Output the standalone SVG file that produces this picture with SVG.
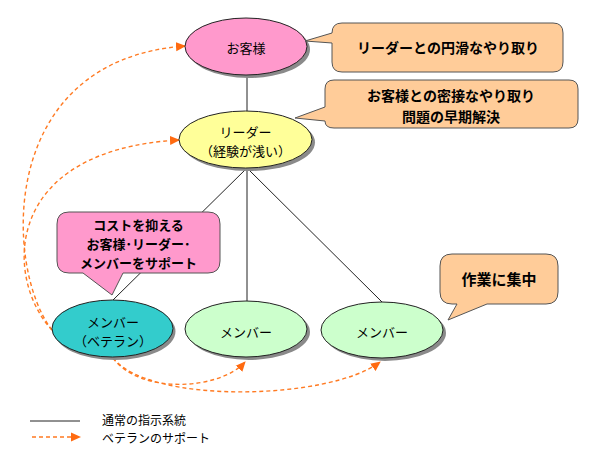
<svg xmlns="http://www.w3.org/2000/svg" width="590" height="460" viewBox="0 0 590 460">
<style>
text{font-family:"Noto Sans CJK JP","Noto Sans CJK SC",sans-serif;fill:#000;text-anchor:middle}
.n{font-size:13px}
.b{font-size:14px;font-weight:bold}
.b2{font-size:13px;font-weight:bold}
.lg{font-size:12px;text-anchor:start}
.node{stroke:#222;stroke-width:1}
.sh{fill:#8a8a8a}
.co{stroke:#555;stroke-width:1}
.solid{stroke:#222;stroke-width:1;fill:none}
.dash{stroke:#FF7A22;stroke-width:1.4;stroke-dasharray:4 3;fill:none;marker-end:url(#ah)}
</style>
<defs>
<marker id="ah" markerUnits="userSpaceOnUse" markerWidth="10" markerHeight="10" viewBox="0 0 10 10" refX="9" refY="5" orient="auto">
<path d="M0,0.5 L10,5 L0,9.5 Z" fill="#FF6A10"/>
</marker>
</defs>
<rect width="590" height="460" fill="#fff"/>
<g id="connectors">
<line class="solid" x1="247" y1="75" x2="247" y2="111"/>
<line class="solid" x1="247" y1="168" x2="113" y2="300"/>
<line class="solid" x1="247" y1="168" x2="247" y2="301"/>
<line class="solid" x1="247" y1="168" x2="382" y2="302"/>
<path class="dash" d="M52,330 C5,270 -5,60 185,46"/>
<path class="dash" d="M52,330 C5,280 0,150 179,140"/>
<path class="dash" d="M113,358 C140,395 220,390 245,362"/>
<path class="dash" d="M113,358 C150,405 330,400 380,362"/>
</g>
<g id="node-customer">
<ellipse class="sh" cx="249" cy="49.5" rx="61" ry="28.5"/>
<ellipse class="node" cx="246" cy="46.5" rx="61" ry="28.5" fill="#FF99CC"/>
<text class="n" x="246" y="53">お客様</text>
</g>
<g id="node-leader">
<ellipse class="sh" cx="248.5" cy="142.5" rx="66.5" ry="28.5"/>
<ellipse class="node" cx="245.5" cy="139.5" rx="66.5" ry="28.5" fill="#FFFF99"/>
<text class="n" x="245.5" y="137">リーダー</text>
<text class="n" x="245.5" y="156">（経験が浅い）</text>
</g>
<g id="node-veteran">
<ellipse class="sh" cx="115" cy="331.5" rx="60.5" ry="28.5"/>
<ellipse class="node" cx="112.5" cy="328.5" rx="60.5" ry="28.5" fill="#33CCCC"/>
<text class="n" x="113" y="327">メンバー</text>
<text class="n" x="113" y="346">（ベテラン）</text>
</g>
<g id="node-member2">
<ellipse class="sh" cx="249" cy="332" rx="61" ry="28"/>
<ellipse class="node" cx="246" cy="329" rx="61" ry="28" fill="#CCFFCC"/>
<text class="n" x="246" y="337">メンバー</text>
</g>
<g id="node-member3">
<ellipse class="sh" cx="385" cy="333" rx="61" ry="28"/>
<ellipse class="node" cx="382" cy="330" rx="61" ry="28" fill="#CCFFCC"/>
<text class="n" x="382" y="337">メンバー</text>
</g>
<g id="callout-customer">
<path class="co" fill="#FFCC99" d="M342,23 H553 Q563,23 563,33 V62 Q563,72 553,72 H342 Q332,72 332,62 V43 L305,41 L332,33 Q332,23 342,23 Z"/>
<text class="b" x="448" y="53">リーダーとの円滑なやり取り</text>
</g>
<g id="callout-leader">
<path class="co" fill="#FFCC99" d="M334,80 H569 Q578,80 578,89 V119 Q578,128 569,128 H334 Q325,128 325,121 L295,118 L325,107 V89 Q325,80 334,80 Z"/>
<text class="b" x="451" y="101">お客様との密接なやり取り</text>
<text class="b" x="451" y="122">問題の早期解決</text>
</g>
<g id="callout-veteran">
<path class="co" fill="#FF99CC" d="M69,212 H208 Q220,212 220,224 V261 Q220,273 208,273 H123 L112,295 L83,273 H69 Q57,273 57,261 V224 Q57,212 69,212 Z"/>
<text class="b2" x="138.5" y="230">コストを抑える</text>
<text class="b2" x="138.5" y="249">お客様･リーダー･</text>
<text class="b2" x="138.5" y="268">メンバーをサポート</text>
</g>
<g id="callout-member">
<path class="co" fill="#FFCC99" d="M452,254 H546 Q558,254 558,266 V292 Q558,304 546,304 H487 L448,320 L457,304 H452 Q440,304 440,292 V266 Q440,254 452,254 Z"/>
<text class="b" x="499" y="285" style="font-size:15px">作業に集中</text>
</g>
<g id="legend">
<line class="solid" x1="30" y1="421" x2="80" y2="421"/>
<line x1="32" y1="437" x2="80" y2="437" stroke="#FF7A22" stroke-width="1.4" stroke-dasharray="4 3" marker-end="url(#ah)"/>
<text class="lg" x="102" y="425">通常の指示系統</text>
<text class="lg" x="102" y="443">ベテランのサポート</text>
</g>
</svg>
